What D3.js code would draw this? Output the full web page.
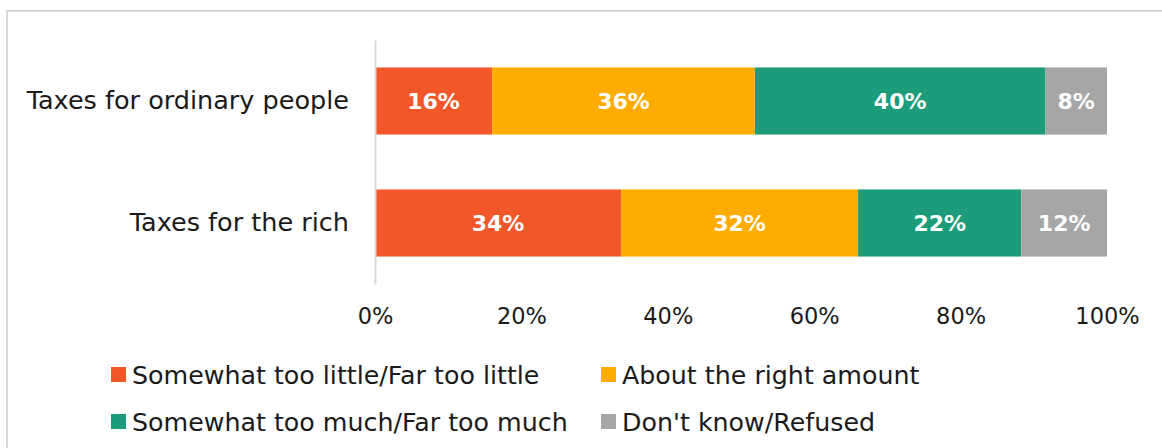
<!DOCTYPE html>
<html>
<head>
<meta charset="utf-8">
<script src="https://cdn.jsdelivr.net/npm/d3@7"></script>
<style>
  html, body { margin: 0; padding: 0; background: #fff; }
  svg { display: block; }
  text { font-family: "DejaVu Sans", sans-serif; }
</style>
</head>
<body>
<div id="chart"></div>
<script>
// data
const categories = ["Taxes for ordinary people", "Taxes for the rich"];
const seriesNames = ["Somewhat too little/Far too little", "About the right amount",
                     "Somewhat too much/Far too much", "Don't know/Refused"];
const seriesColors = ["#F2572A", "#FFAB00", "#1C9C7A", "#A6A6A6"];
const ordinaryValues = [16.0, 35.9, 39.7, 8.4];
const richValues = [33.6, 32.4, 22.3, 11.7];
const tickValues = [0, 20, 40, 60, 80, 100];

const W = 1162, H = 448;
const svg = d3.select("#chart").append("svg").attr("width", W).attr("height", H);

// chart frame (only top and left are visible in the crop)
svg.append("path")
  .attr("d", `M7,${H} V11 H${W}`)
  .attr("fill", "none").attr("stroke", "#d9d9d9").attr("stroke-width", 2);

const x = d3.scaleLinear().domain([0, 100]).range([375, 1107]);
const y = d3.scaleBand().domain(categories).range([40, 284])
  .paddingInner(0.45).paddingOuter(0.225);

const rows = categories.map((c, i) => {
  const vals = i === 0 ? ordinaryValues : richValues;
  let acc = 0;
  return vals.map((v, j) => {
    const seg = { cat: c, series: j, value: v, x0: acc, x1: acc + v };
    acc += v;
    return seg;
  });
});

const segs = svg.append("g").selectAll("g.row").data(rows).join("g").attr("class", "row");

segs.selectAll("rect").data(d => d).join("rect")
  .attr("x", d => x(d.x0))
  .attr("y", d => y(d.cat))
  .attr("width", d => x(d.x1) - x(d.x0))
  .attr("height", y.bandwidth())
  .attr("fill", d => seriesColors[d.series]);

segs.selectAll("text").data(d => d).join("text")
  .attr("x", d => (x(d.x0) + x(d.x1)) / 2)
  .attr("y", d => y(d.cat) + y.bandwidth() / 2)
  .attr("dy", "0.36em")
  .attr("text-anchor", "middle")
  .attr("fill", "#fff")
  .attr("font-weight", "bold")
  .attr("font-size", 22)
  .text(d => Math.round(d.value) + "%");

// vertical category axis
const yAxis = svg.append("g").attr("transform", "translate(375,0)")
  .call(d3.axisLeft(y).tickSize(0).tickPadding(26));
yAxis.select(".domain").attr("stroke", "#d9d9d9").attr("stroke-width", 2);
yAxis.selectAll("text")
  .attr("font-size", 25.5).attr("fill", "#1a1a1a")
  .attr("font-family", "DejaVu Sans, sans-serif");

// percent tick labels, no axis line
const xAxis = svg.append("g").attr("transform", "translate(0,294)")
  .call(d3.axisBottom(x).tickValues(tickValues).tickSize(0).tickPadding(14)
    .tickFormat(d => d + "%"));
xAxis.select(".domain").remove();
xAxis.selectAll("text")
  .attr("font-size", 22.5).attr("fill", "#1a1a1a")
  .attr("font-family", "DejaVu Sans, sans-serif");

// legend, two columns
const legendPos = [[111, 367], [601, 367], [111, 414], [601, 414]];
const legend = svg.append("g").selectAll("g").data(seriesNames).join("g")
  .attr("transform", (d, i) => `translate(${legendPos[i][0]},${legendPos[i][1]})`);
legend.append("rect").attr("width", 15).attr("height", 15)
  .attr("fill", (d, i) => seriesColors[i]);
legend.append("text")
  .attr("x", 21).attr("y", 7.5).attr("dy", "0.36em")
  .attr("font-size", 25.3).attr("fill", "#1a1a1a")
  .text(d => d);
</script>
</body>
</html>
